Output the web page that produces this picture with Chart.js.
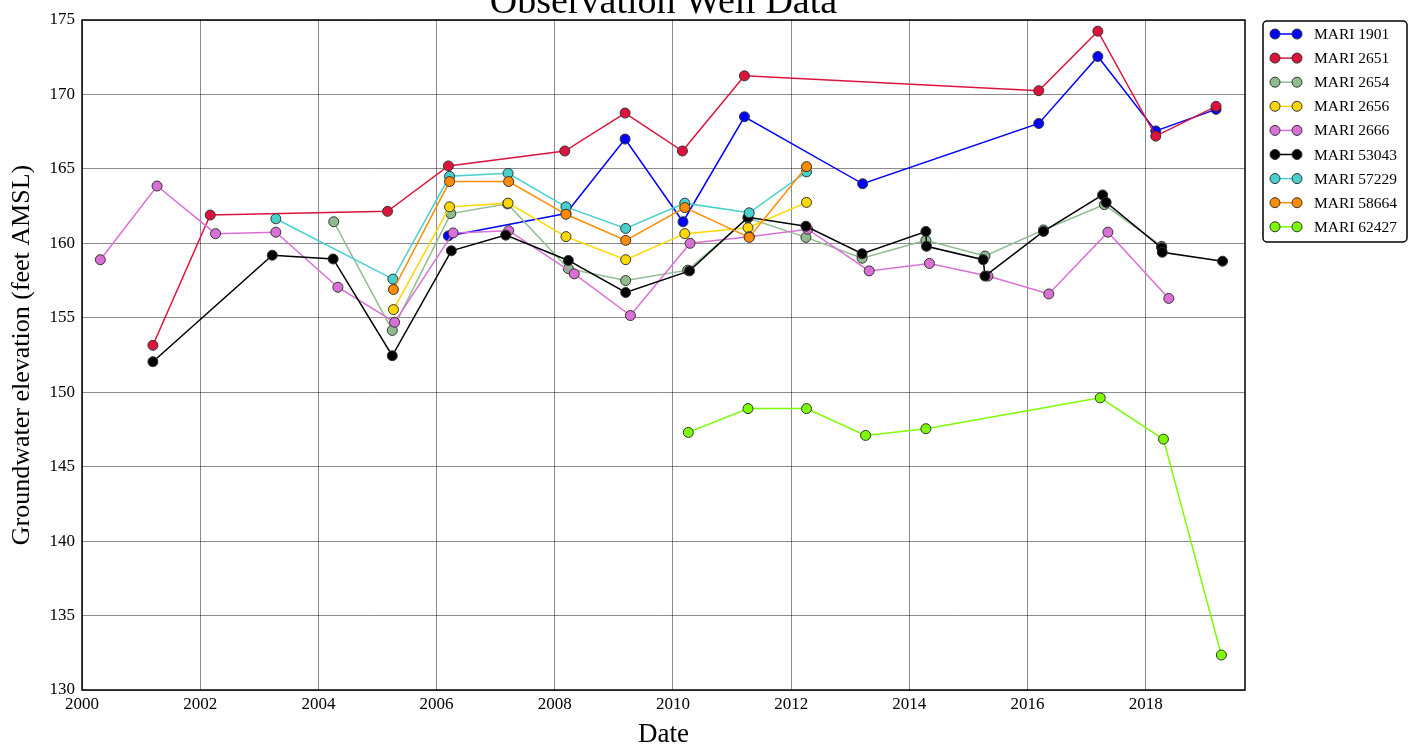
<!DOCTYPE html>
<html>
<head>
<meta charset="utf-8">
<title>Observation Well Data</title>
<script src="https://cdn.jsdelivr.net/npm/chart.js@4.4.1/dist/chart.umd.min.js"></script>
<style>
  html, body { margin: 0; padding: 0; background: #fff; }
  #wrap { width: 1421px; height: 750px; }
</style>
</head>
<body>
<div id="wrap"><canvas id="chart" width="1421" height="750"></canvas></div>
<script>
// readings per well: [decimal year, groundwater elevation (ft AMSL)]
const WELL_NAMES = ["MARI 1901","MARI 2651","MARI 2654","MARI 2656","MARI 2666","MARI 53043","MARI 57229","MARI 58664","MARI 62427"];

const MARI_1901 = [[2006.20,160.5],[2008.19,162.0],[2009.19,167.0],[2010.17,161.45],[2011.21,168.5],[2013.21,164.0],[2016.19,168.05],[2017.19,172.55],[2018.17,167.55],[2019.19,169.0]];
const MARI_2651 = [[2001.20,153.15],[2002.17,161.9],[2005.17,162.15],[2006.20,165.2],[2008.17,166.2],[2009.19,168.75],[2010.16,166.2],[2011.21,171.25],[2016.19,170.25],[2017.19,174.25],[2018.17,167.2],[2019.19,169.2]];
const MARI_2654 = [[2004.26,161.45],[2005.25,154.15],[2006.24,162.0],[2007.20,162.65],[2008.23,158.3],[2009.20,157.5],[2010.25,158.2],[2011.27,161.7],[2012.25,160.4],[2013.20,159.0],[2014.28,160.2],[2015.28,159.15],[2016.27,160.9],[2017.30,162.6],[2018.27,159.8]];
const MARI_2656 = [[2005.27,155.55],[2006.22,162.45],[2007.21,162.7],[2008.19,160.45],[2009.20,158.9],[2010.20,160.65],[2011.27,161.05],[2012.26,162.75]];
const MARI_2666 = [[2000.31,158.9],[2001.27,163.85],[2002.26,160.65],[2003.28,160.75],[2004.33,157.05],[2005.29,154.7],[2006.28,160.7],[2007.22,160.85],[2008.33,157.95],[2009.28,155.15],[2010.29,160.0],[2011.29,160.45],[2012.28,160.95],[2013.32,158.15],[2014.34,158.65],[2015.33,157.8],[2016.36,156.6],[2017.36,160.75],[2018.39,156.3]];
const MARI_53043 = [[2001.20,152.05],[2003.22,159.2],[2004.25,158.95],[2005.25,152.45],[2006.25,159.5],[2007.17,160.55],[2008.23,158.85],[2009.20,156.7],[2010.28,158.15],[2011.27,161.75],[2012.25,161.15],[2013.20,159.3],[2014.28,160.8],[2014.29,159.8],[2015.25,158.9],[2015.28,157.8],[2016.27,160.8],[2017.27,163.25],[2017.33,162.75],[2018.27,159.7],[2018.28,159.4],[2019.30,158.8]];
const MARI_57229 = [[2003.28,161.65],[2005.26,157.6],[2006.22,164.5],[2007.21,164.7],[2008.19,162.45],[2009.20,161.0],[2010.20,162.7],[2011.29,162.05],[2012.26,164.8]];
const MARI_58664 = [[2005.27,156.9],[2006.22,164.15],[2007.22,164.15],[2008.19,161.95],[2009.20,160.2],[2010.20,162.4],[2011.29,160.4],[2012.26,165.15]];
const MARI_62427 = [[2010.26,147.3],[2011.27,148.9],[2012.26,148.9],[2013.26,147.1],[2014.28,147.55],[2017.23,149.62],[2018.30,146.85],[2019.28,132.35]];

const X_TICKS = [2000,2002,2004,2006,2008,2010,2012,2014,2016,2018];
const Y_TICKS = [130,135,140,145,150,155,160,165,170,175];

const SERIES = [MARI_1901, MARI_2651, MARI_2654, MARI_2656, MARI_2666, MARI_53043, MARI_57229, MARI_58664, MARI_62427];
const COLORS = ["#0000ff","#dc143c","#8fbc8f","#ffd700","#da70d6","#000000","#48d1cc","#ff8c00","#7cfc00"];

const SERIF = '"Liberation Serif", "Times New Roman", serif';

// matplotlib-ish title, clipped at the top edge
const titlePlugin = {
  id: 'clippedTitle',
  afterDraw(chart) {
    const {ctx, chartArea} = chart;
    ctx.save();
    ctx.font = '38px ' + SERIF;
    ctx.fillStyle = '#000';
    ctx.textAlign = 'center';
    ctx.textBaseline = 'alphabetic';
    ctx.fillText('Observation Well Data', (chartArea.left + chartArea.right) / 2, 13);
    ctx.restore();
  }
};

// black box round the plot
const framePlugin = {
  id: 'frame',
  beforeDatasetsDraw(chart) {
    const {ctx, chartArea: a} = chart;
    ctx.save();
    ctx.strokeStyle = '#000';
    ctx.lineWidth = 1.5;
    ctx.strokeRect(a.left, a.top, a.right - a.left, a.bottom - a.top);
    ctx.restore();
  }
};

// legend with line + two markers, outside right
const legendPlugin = {
  id: 'wellLegend',
  afterDraw(chart) {
    const {ctx, chartArea} = chart;
    const x0 = chartArea.right + 18, y0 = chartArea.top + 1;
    const w = 144, h = 221, rowH = 24.1;
    ctx.save();
    ctx.beginPath();
    if (ctx.roundRect) ctx.roundRect(x0, y0, w, h, 4); else ctx.rect(x0, y0, w, h);
    ctx.fillStyle = '#fff';
    ctx.fill();
    ctx.lineWidth = 1.5;
    ctx.strokeStyle = '#000';
    ctx.stroke();
    chart.data.datasets.forEach((ds, i) => {
      const cy = y0 + 13 + i * rowH;
      ctx.strokeStyle = ds.borderColor;
      ctx.lineWidth = 1.5;
      ctx.beginPath();
      ctx.moveTo(x0 + 12, cy);
      ctx.lineTo(x0 + 34, cy);
      ctx.stroke();
      [x0 + 12, x0 + 34].forEach(px => {
        ctx.beginPath();
        ctx.arc(px, cy, 5, 0, Math.PI * 2);
        ctx.fillStyle = ds.pointBackgroundColor;
        ctx.fill();
        ctx.lineWidth = 1;
        ctx.strokeStyle = ds.pointBorderColor;
        ctx.stroke();
      });
      ctx.fillStyle = '#000';
      ctx.font = '15.5px ' + SERIF;
      ctx.textAlign = 'left';
      ctx.textBaseline = 'middle';
      ctx.fillText(ds.label, x0 + 51, cy + 1);
    });
    ctx.restore();
  }
};

const datasets = SERIES.map((pts, i) => ({
  label: WELL_NAMES[i],
  data: pts.map(p => ({x: p[0], y: p[1]})),
  borderColor: COLORS[i],
  backgroundColor: COLORS[i],
  pointBackgroundColor: COLORS[i],
  pointBorderColor: '#333333',
  pointBorderWidth: 1,
  pointRadius: 5,
  borderWidth: 1.5,
  tension: 0,
  order: -i   // later wells on top, like the original
}));

const gridColor = 'rgba(0,0,0,0.45)';

new Chart(document.getElementById('chart'), {
  type: 'line',
  data: { datasets },
  plugins: [framePlugin, titlePlugin, legendPlugin],
  options: {
    responsive: false,
    devicePixelRatio: 1,
    animation: false,
    layout: { padding: { top: 20, right: 176, bottom: 0, left: 0 } },
    plugins: { legend: { display: false }, title: { display: false }, tooltip: { enabled: false } },
    scales: {
      x: {
        type: 'linear',
        min: 2000,
        max: 2019.68,
        afterBuildTicks: s => { s.ticks = X_TICKS.map(v => ({value: v})); },
        afterFit: s => { s.height = 60; },
        ticks: { color: '#000', font: { family: SERIF, size: 17 }, padding: 4, maxRotation: 0, callback: v => String(v) },
        grid: { color: gridColor, lineWidth: 1, drawTicks: false },
        border: { display: false },
        title: { display: true, text: 'Date', color: '#000', font: { family: SERIF, size: 27, lineHeight: 1 }, padding: { top: 0, bottom: 2 } }
      },
      y: {
        min: 130,
        max: 175,
        afterBuildTicks: s => { s.ticks = Y_TICKS.map(v => ({value: v})); },
        afterFit: s => { s.width = 82; },
        ticks: { color: '#000', font: { family: SERIF, size: 17 }, padding: 7, callback: v => String(v) },
        grid: { color: gridColor, lineWidth: 1, drawTicks: false },
        border: { display: false },
        title: { display: true, text: 'Groundwater elevation (feet AMSL)', color: '#000', font: { family: SERIF, size: 26, lineHeight: 1 }, padding: { top: 9, bottom: 0 } }
      }
    }
  }
});
</script>
</body>
</html>
